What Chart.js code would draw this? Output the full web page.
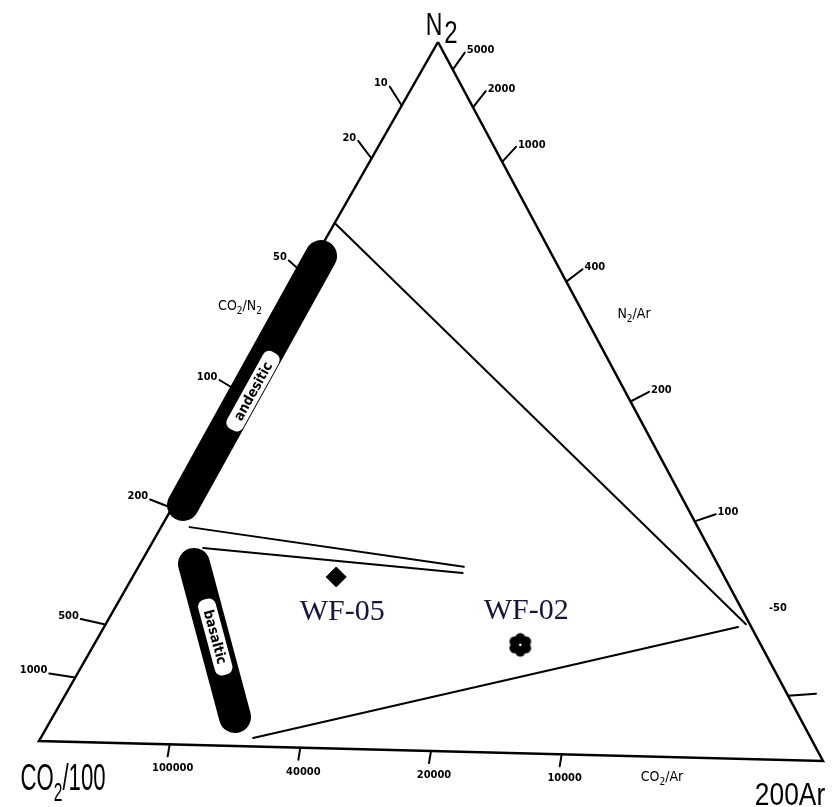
<!DOCTYPE html>
<html>
<head>
<meta charset="utf-8">
<script src="https://cdn.jsdelivr.net/npm/chart.js@4.4.0/dist/chart.umd.min.js"></script>
<style>
  html, body { margin: 0; padding: 0; background: #fff; }
</style>
</head>
<body>
<canvas id="chart" width="833" height="807"></canvas>
<script>
// ternary compositions are [N2, CO2/100, 200Ar]
const co2n2Ticks = [10, 20, 50, 100, 200, 500, 1000];
const n2arTicks = [5000, 2000, 1000, 400, 200, 100, 50, 20];
const n2arLabels = ['5000', '2000', '1000', '400', '200', '100', '-50', ''];
const co2arTicks = [100000, 40000, 20000, 10000];
const co2arLabels = ['100000', '40000', '20000', '10000'];

const upperLine = [[0.741, 0.259, 0], [0.19, 0.005, 0.805]];
const lowerLine = [[0.012, 0.721, 0.267], [0.186, 0.017, 0.797]];
const wedgeTop = [[0.307, 0.657, 0.036], [0.261, 0.33, 0.409]];
const wedgeBottom = [[0.278, 0.654, 0.068], [0.252, 0.336, 0.412]];
const andesitic = [[0.694, 0.2995, 0.0065], [0.338, 0.6503, 0.0117]];
const basaltic = [[0.2552, 0.677, 0.0678], [0.0409, 0.7299, 0.2292]];
const andesiticLabel = [0.501, 0.481, 0.018];
const basalticLabel = [0.153, 0.700, 0.147];

const samples = ['WF-05', 'WF-02'];
const sampleN2 = [0.242, 0.153];
const sampleCO2 = [0.502, 0.311];
const sampleAr = [0.256, 0.536];

// where the three corners sit in the plot frame
const VERT = { n2: [438, 42], co2: [39, 741], ar: [823, 761] };

function toXY(t) {
    const s = t[0] + t[1] + t[2];
    return {
        x: (t[0] * VERT.n2[0] + t[1] * VERT.co2[0] + t[2] * VERT.ar[0]) / s,
        y: (t[0] * VERT.n2[1] + t[1] * VERT.co2[1] + t[2] * VERT.ar[1]) / s
    };
}

function flowerMarker() {
    const c = document.createElement('canvas');
    c.width = 26; c.height = 26;
    const g = c.getContext('2d');
    g.fillStyle = '#000';
    for (let i = 0; i < 6; i++) {
        const a = i * Math.PI / 3 + Math.PI / 6;
        g.beginPath();
        g.arc(13 + 6.5 * Math.cos(a), 13 + 6.5 * Math.sin(a), 5.2, 0, 2 * Math.PI);
        g.fill();
    }
    g.beginPath(); g.arc(13, 13, 7.5, 0, 2 * Math.PI); g.fill();
    g.fillStyle = '#fff';
    g.beginPath(); g.arc(13, 13, 1.3, 0, 2 * Math.PI); g.fill();
    return c;
}

// draws text made of [string, isSubscript] parts, centred at x
function richText(ctx, parts, x, y, size, family, sx, weight) {
    ctx.save();
    ctx.translate(x, y);
    ctx.scale(sx, 1);
    const f = p => (weight || '') + ' ' + (p[1] ? Math.round(size * 0.7) : size) + 'px ' + family;
    let w = 0;
    parts.forEach(p => {
        ctx.font = f(p);
        w += ctx.measureText(p[0]).width;
    });
    let cx = -w / 2;
    ctx.textBaseline = 'alphabetic';
    ctx.textAlign = 'left';
    parts.forEach(p => {
        ctx.font = f(p);
        ctx.fillText(p[0], cx, p[1] ? size * 0.3 : 0);
        cx += ctx.measureText(p[0]).width;
    });
    ctx.restore();
}

const line = (pts, width) => ({
    data: pts.map(toXY),
    showLine: true,
    borderColor: '#000',
    borderWidth: width,
    pointRadius: 0,
    borderCapStyle: 'round'
});

const lerp = (a, b, t) => a + (b - a) * t;

const overlay = {
    id: 'overlay',
    afterDatasetsDraw(chart) {
        const ctx = chart.ctx,
            sx = chart.scales.x,
            sy = chart.scales.y;
        const px = t => {
            const p = toXY(t);
            return [sx.getPixelForValue(p.x), sy.getPixelForValue(p.y)];
        };
        const tickFont = "bold 11px 'DejaVu Sans Condensed'";
        const big = "'Liberation Sans'";

        ctx.save();
        ctx.strokeStyle = '#000';
        ctx.fillStyle = '#000';
        ctx.lineWidth = 2;
        ctx.lineCap = 'round';

        // CO2/N2 side, tick strokes lean flatter toward the bottom
        co2n2Ticks.forEach(r => {
            const [x, y] = px([100, r, 0]);
            const f = (r / (100 + r) - 0.09) / 0.82;
            const dx = lerp(-12, -26, f), dy = lerp(-19, -4, f);
            ctx.beginPath(); ctx.moveTo(x, y); ctx.lineTo(x + dx, y + dy); ctx.stroke();
            ctx.font = tickFont; ctx.textAlign = 'right'; ctx.textBaseline = 'middle';
            ctx.fillText(String(r), x + dx - 2, y + dy - 3);
        });
        // N2/Ar side
        n2arTicks.forEach((r, i) => {
            const [x, y] = px([r, 0, 200]);
            const lab = n2arLabels[i];
            if (lab === '') {
                ctx.beginPath(); ctx.moveTo(x, y); ctx.lineTo(x + 28, y - 2); ctx.stroke();
                return;
            }
            const f = Math.min(1, (200 / (r + 200) - 0.04) / 0.63);
            const dx = lerp(12, 21, f), dy = lerp(-17, -7, f);
            if (lab[0] !== '-') {
                ctx.beginPath(); ctx.moveTo(x, y); ctx.lineTo(x + dx, y + dy); ctx.stroke();
            }
            ctx.font = tickFont; ctx.textAlign = 'left'; ctx.textBaseline = 'middle';
            ctx.fillText(lab, x + dx + 2, y + dy - 2);
        });
        // CO2/Ar side
        co2arTicks.forEach((r, i) => {
            const [x, y] = px([0, r / 100, 200]);
            ctx.beginPath(); ctx.moveTo(x, y); ctx.lineTo(x - 2, y + 12); ctx.stroke();
            ctx.font = tickFont; ctx.textAlign = 'center'; ctx.textBaseline = 'middle';
            ctx.fillText(co2arLabels[i], x + 3, y + 24);
        });

        // side titles
        richText(ctx, [['CO', 0], ['2', 1], ['/N', 0], ['2', 1]], 240, 310, 14, "'DejaVu Sans Condensed'", 1);
        richText(ctx, [['N', 0], ['2', 1], ['/Ar', 0]], 634, 318, 14, "'DejaVu Sans Condensed'", 1);
        richText(ctx, [['CO', 0], ['2', 1], ['/Ar', 0]], 662, 781, 14, "'DejaVu Sans Condensed'", 1);

        // corner names
        richText(ctx, [['N', 0]], 434, 35, 32, big, 0.72);
        richText(ctx, [['2', 0]], 451, 43, 32, big, 0.75);
        richText(ctx, [['CO', 0], ['2', 1], ['/100', 0]], 63, 790, 37, big, 0.6);
        richText(ctx, [['200Ar', 0]], 790, 805, 31, big, 0.85);

        // band labels
        const band = (t, text, angle, w) => {
            const [x, y] = px(t);
            ctx.save();
            ctx.translate(x, y);
            ctx.rotate(angle);
            ctx.fillStyle = '#fff';
            ctx.beginPath();
            ctx.roundRect(-w / 2, -9, w, 18, 7);
            ctx.fill();
            ctx.fillStyle = '#000';
            ctx.font = "bold 14px 'DejaVu Sans Condensed'";
            ctx.textAlign = 'center';
            ctx.textBaseline = 'middle';
            ctx.fillText(text, 0, 1);
            ctx.restore();
        };
        band(andesiticLabel, 'andesitic', -61 * Math.PI / 180, 88);
        band(basalticLabel, 'basaltic', 75 * Math.PI / 180, 78);

        // sample names
        const offsets = [35, -34];
        samples.forEach((s, i) => {
            const [x, y] = px([sampleN2[i], sampleCO2[i], sampleAr[i]]);
            ctx.font = "30px 'Liberation Serif'";
            ctx.fillStyle = '#15153a';
            ctx.textAlign = 'center';
            ctx.textBaseline = 'middle';
            ctx.fillText(s, x + 6, y + offsets[i]);
        });
        ctx.restore();
    }
};

new Chart(document.getElementById('chart'), {
    type: 'scatter',
    data: {
        datasets: [
            {
                data: [[1, 0, 0], [0, 1, 0], [0, 0, 1], [1, 0, 0]].map(toXY),
                showLine: true,
                borderColor: '#000',
                borderWidth: 2.5,
                borderJoinStyle: 'miter',
                pointRadius: 0
            },
            line(upperLine, 2),
            line(lowerLine, 2),
            line(wedgeTop, 2),
            line(wedgeBottom, 2),
            line(andesitic, 32),
            line(basaltic, 32),
            {
                data: [toXY([sampleN2[0], sampleCO2[0], sampleAr[0]])],
                pointStyle: 'rectRot',
                pointRadius: 10,
                backgroundColor: '#000',
                borderColor: '#000'
            },
            {
                data: [toXY([sampleN2[1], sampleCO2[1], sampleAr[1]])],
                pointStyle: flowerMarker(),
                pointRadius: 13
            }
        ]
    },
    options: {
        responsive: false,
        animation: false,
        layout: { padding: 0, autoPadding: false },
        scales: {
            x: { type: 'linear', min: 0, max: 833, display: false },
            y: { type: 'linear', min: 0, max: 807, reverse: true, display: false }
        },
        plugins: {
            legend: { display: false },
            tooltip: { enabled: false }
        }
    },
    plugins: [overlay]
});
</script>
</body>
</html>
